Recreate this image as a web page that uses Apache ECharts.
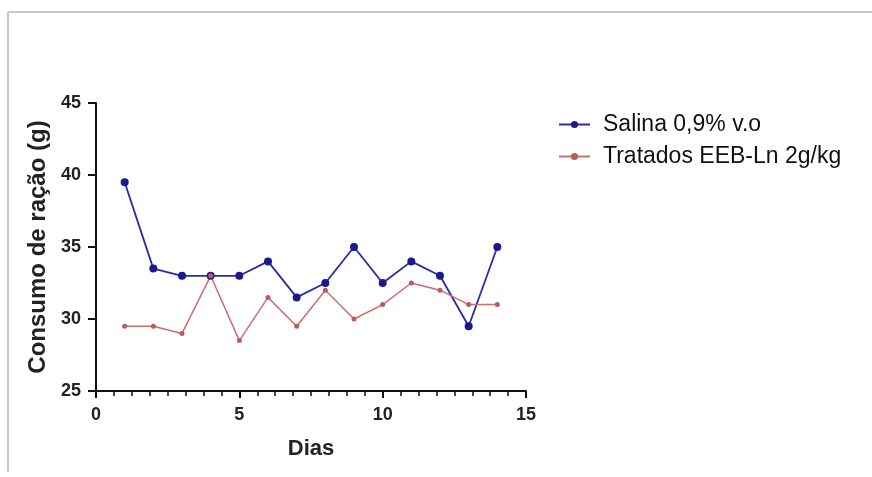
<!DOCTYPE html>
<html>
<head>
<meta charset="utf-8">
<script src="https://cdn.jsdelivr.net/npm/echarts@6/dist/echarts.min.js"></script>
<style>html,body{margin:0;padding:0;background:#fff;}#c{width:872px;height:477px;}</style>
</head>
<body>
<div id="c"></div>
<script>
const dias = [1,2,3,4,5,6,7,8,9,10,11,12,13,14];
const salina = [39.5,33.5,33,33,33,34,31.5,32.5,35,32.5,34,33,29.5,35];
const tratados = [29.5,29.5,29,33,28.5,31.5,29.5,32,30,31,32.5,32,31,31];
const seriesNames = ['Salina 0,9% v.o','Tratados EEB-Ln 2g/kg'];
const xTicks = [0,5,10,15];
const yTicks = [25,30,35,40,45];

const chart = echarts.init(document.getElementById('c'), null, {renderer:'canvas'});
const font = 'Liberation Sans, Arial, sans-serif';
chart.setOption({
  animation:false,
  backgroundColor:'#fff',
  graphic:[
    {type:'line', shape:{x1:8,y1:12,x2:872,y2:12}, style:{stroke:'#c8c8c8', lineWidth:2}},
    {type:'line', shape:{x1:8,y1:12,x2:8,y2:472}, style:{stroke:'#c8c8c8', lineWidth:2}}
  ],
  grid:{left:96,right:346,top:103,bottom:86},
  legend:{
    orient:'vertical', left:553, top:108, itemWidth:31, itemHeight:9, itemGap:9,
    textStyle:{fontFamily:font, fontSize:23, color:'#111', lineHeight:23, padding:[0,0,0,8]},
    data:seriesNames
  },
  xAxis:{
    type:'value', min:xTicks[0], max:xTicks[xTicks.length-1], interval:5,
    name:'Dias', nameLocation:'middle', nameGap:47,
    nameTextStyle:{fontFamily:font, fontSize:22, fontWeight:'bold', color:'#222'},
    axisLine:{lineStyle:{color:'#111', width:2}},
    axisTick:{show:true, length:7, lineStyle:{color:'#111', width:2}},
    minorTick:{show:true, splitNumber:8, length:5, lineStyle:{color:'#111', width:1.5}},
    axisLabel:{fontFamily:font, fontSize:18, fontWeight:'bold', color:'#222', margin:15},
    splitLine:{show:false}
  },
  yAxis:{
    type:'value', min:yTicks[0], max:yTicks[yTicks.length-1], interval:5,
    name:'Consumo de ração (g)', nameLocation:'middle', nameGap:46,
    nameTextStyle:{fontFamily:font, fontSize:24, fontWeight:'bold', color:'#222'},
    axisLine:{show:true, lineStyle:{color:'#111', width:2}},
    axisTick:{show:true, length:8, lineStyle:{color:'#111', width:2}},
    axisLabel:{fontFamily:font, fontSize:18, fontWeight:'bold', color:'#222', margin:15},
    splitLine:{show:false}
  },
  series:[
    {name:seriesNames[0], type:'line', data:dias.map((d,i)=>[d,salina[i]]),
     symbol:'circle', symbolSize:8, color:'#1c1c96',
     lineStyle:{color:'#2a2aa8', width:1.8}, itemStyle:{color:'#1a1a8c'}},
    {name:seriesNames[1], type:'line', data:dias.map((d,i)=>[d,tratados[i]]),
     symbol:'circle', symbolSize:5, color:'#c06a6a',
     lineStyle:{color:'#c87070', width:1.5}, itemStyle:{color:'#b85c5c'}}
  ]
});
</script>
</body>
</html>
